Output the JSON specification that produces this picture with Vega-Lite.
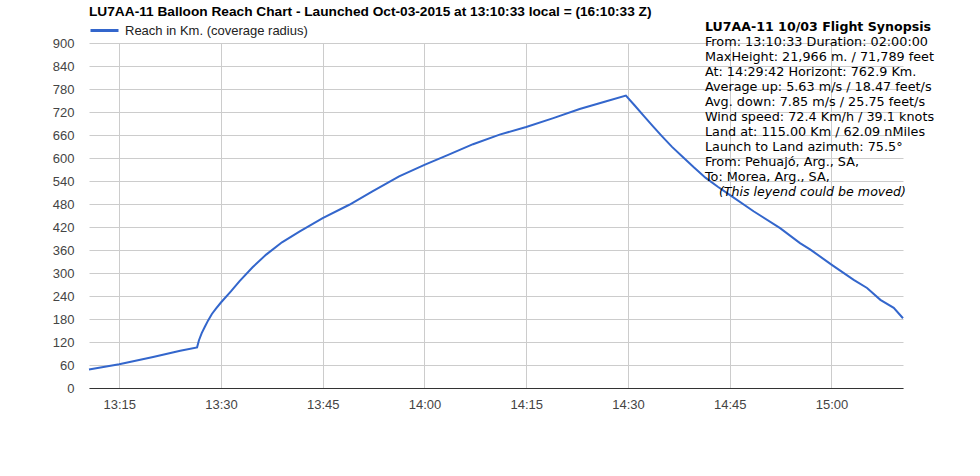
{
  "$schema": "https://vega.github.io/schema/vega-lite/v6.json",
  "width": 814,
  "height": 345,
  "autosize": {"type": "none"},
  "padding": {"left": 89, "top": 43, "right": 77, "bottom": 88},
  "background": "white",
  "title": {
    "text": "LU7AA-11 Balloon Reach Chart - Launched Oct-03-2015 at 13:10:33 local = (16:10:33 Z)",
    "anchor": "start",
    "frame": "group",
    "font": "Liberation Sans",
    "fontSize": 13.7,
    "fontWeight": "bold",
    "color": "#000000",
    "offset": -4
  },
  "config": {
    "view": {"stroke": null},
    "axis": {
      "labelFont": "Liberation Sans",
      "labelFontSize": 13,
      "labelColor": "#444444",
      "ticks": false,
      "gridColor": "#cccccc",
      "gridWidth": 1,
      "title": null
    },
    "legend": {
      "labelFont": "Liberation Sans",
      "labelFontSize": 13,
      "labelColor": "#222222",
      "labelLimit": 400
    }
  },
  "datasets": {
    "reach": [
      {"time": "2015-10-03T13:10:33", "km": 48},
      {"time": "2015-10-03T13:15:00", "km": 62},
      {"time": "2015-10-03T13:20:00", "km": 81},
      {"time": "2015-10-03T13:24:00", "km": 97},
      {"time": "2015-10-03T13:26:29", "km": 106},
      {"time": "2015-10-03T13:26:45", "km": 124},
      {"time": "2015-10-03T13:27:10", "km": 143},
      {"time": "2015-10-03T13:27:40", "km": 161},
      {"time": "2015-10-03T13:28:08", "km": 177},
      {"time": "2015-10-03T13:28:40", "km": 193},
      {"time": "2015-10-03T13:29:16", "km": 207},
      {"time": "2015-10-03T13:30:00", "km": 223},
      {"time": "2015-10-03T13:31:28", "km": 252},
      {"time": "2015-10-03T13:32:45", "km": 279},
      {"time": "2015-10-03T13:34:40", "km": 315},
      {"time": "2015-10-03T13:36:40", "km": 348},
      {"time": "2015-10-03T13:39:00", "km": 380},
      {"time": "2015-10-03T13:41:34", "km": 408},
      {"time": "2015-10-03T13:45:00", "km": 443},
      {"time": "2015-10-03T13:48:55", "km": 478},
      {"time": "2015-10-03T13:52:20", "km": 513},
      {"time": "2015-10-03T13:56:16", "km": 552},
      {"time": "2015-10-03T14:00:00", "km": 582},
      {"time": "2015-10-03T14:03:30", "km": 608},
      {"time": "2015-10-03T14:07:10", "km": 636},
      {"time": "2015-10-03T14:11:05", "km": 661},
      {"time": "2015-10-03T14:15:00", "km": 681},
      {"time": "2015-10-03T14:19:00", "km": 704},
      {"time": "2015-10-03T14:22:53", "km": 728},
      {"time": "2015-10-03T14:26:49", "km": 748},
      {"time": "2015-10-03T14:29:42", "km": 762.9},
      {"time": "2015-10-03T14:31:00", "km": 737},
      {"time": "2015-10-03T14:32:20", "km": 710},
      {"time": "2015-10-03T14:33:40", "km": 683},
      {"time": "2015-10-03T14:35:00", "km": 657},
      {"time": "2015-10-03T14:36:30", "km": 629},
      {"time": "2015-10-03T14:38:03", "km": 603},
      {"time": "2015-10-03T14:39:45", "km": 575},
      {"time": "2015-10-03T14:41:28", "km": 548},
      {"time": "2015-10-03T14:43:15", "km": 525},
      {"time": "2015-10-03T14:45:00", "km": 504},
      {"time": "2015-10-03T14:48:31", "km": 461},
      {"time": "2015-10-03T14:52:26", "km": 417},
      {"time": "2015-10-03T14:55:22", "km": 378},
      {"time": "2015-10-03T14:56:54", "km": 361},
      {"time": "2015-10-03T15:00:00", "km": 322},
      {"time": "2015-10-03T15:03:17", "km": 282},
      {"time": "2015-10-03T15:05:15", "km": 261},
      {"time": "2015-10-03T15:07:13", "km": 230},
      {"time": "2015-10-03T15:09:11", "km": 209},
      {"time": "2015-10-03T15:10:33", "km": 182}
    ],
    "synopsis": [
      {"line": 0, "kind": "head", "text": "LU7AA-11 10/03 Flight Synopsis"},
      {"line": 1, "kind": "body", "text": "From: 13:10:33 Duration: 02:00:00"},
      {"line": 2, "kind": "body", "text": "MaxHeight: 21,966 m. / 71,789 feet"},
      {"line": 3, "kind": "body", "text": "At: 14:29:42  Horizont: 762.9 Km."},
      {"line": 4, "kind": "body", "text": "Average up: 5.63 m/s / 18.47 feet/s"},
      {"line": 5, "kind": "body", "text": "Avg. down: 7.85 m/s / 25.75 feet/s"},
      {"line": 6, "kind": "body", "text": "Wind speed: 72.4 Km/h / 39.1 knots"},
      {"line": 7, "kind": "body", "text": "Land at: 115.00 Km / 62.09 nMiles"},
      {"line": 8, "kind": "body", "text": "Launch to Land azimuth: 75.5°"},
      {"line": 9, "kind": "body", "text": "From: Pehuajó, Arg., SA,"},
      {"line": 10, "kind": "body", "text": "To: Morea, Arg., SA,"},
      {"line": 11, "kind": "note", "text": "(This leyend could be moved)"}
    ]
  },
  "layer": [
    {
      "data": {"name": "reach"},
      "mark": {"type": "line", "strokeWidth": 2, "interpolate": "linear"},
      "encoding": {
        "x": {
          "field": "time",
          "type": "temporal",
          "scale": {"domain": [{"year": 2015, "month": 10, "date": 3, "hours": 13, "minutes": 10, "seconds": 33}, {"year": 2015, "month": 10, "date": 3, "hours": 15, "minutes": 10, "seconds": 33}], "nice": false},
          "axis": {
            "format": "%H:%M",
            "values": [
              {"year": 2015, "month": 10, "date": 3, "hours": 13, "minutes": 15},
              {"year": 2015, "month": 10, "date": 3, "hours": 13, "minutes": 30},
              {"year": 2015, "month": 10, "date": 3, "hours": 13, "minutes": 45},
              {"year": 2015, "month": 10, "date": 3, "hours": 14, "minutes": 0},
              {"year": 2015, "month": 10, "date": 3, "hours": 14, "minutes": 15},
              {"year": 2015, "month": 10, "date": 3, "hours": 14, "minutes": 30},
              {"year": 2015, "month": 10, "date": 3, "hours": 14, "minutes": 45},
              {"year": 2015, "month": 10, "date": 3, "hours": 15, "minutes": 0}
            ],
            "grid": true,
            "domain": true,
            "domainColor": "#333333",
            "domainWidth": 1,
            "labelPadding": 10,
            "labelFlush": false,
            "labelOverlap": false
          }
        },
        "y": {
          "field": "km",
          "type": "quantitative",
          "scale": {"domain": [0, 900], "nice": false},
          "axis": {
            "values": [0, 60, 120, 180, 240, 300, 360, 420, 480, 540, 600, 660, 720, 780, 840, 900],
            "grid": true,
            "domain": false,
            "labelPadding": 15
          }
        },
        "color": {
          "datum": "Reach in Km. (coverage radius)",
          "type": "nominal",
          "scale": {"range": ["#3366cc"]},
          "legend": {
            "title": null,
            "orient": "none",
            "legendX": 0,
            "legendY": -28,
            "symbolType": "stroke",
            "symbolSize": 784,
            "symbolStrokeWidth": 3,
            "labelOffset": 5,
            "labelFontSize": 13,
            "labelLimit": 400
          }
        }
      }
    },
    {
      "data": {"name": "synopsis"},
      "transform": [{"filter": "datum.kind === 'head'"}],
      "mark": {"type": "text", "align": "left", "baseline": "middle", "font": "DejaVu Sans", "fontSize": 12.6, "fontWeight": "bold", "color": "#000000"},
      "encoding": {
        "x": {"datum": {"year": 2015, "month": 10, "date": 3, "hours": 14, "minutes": 41, "seconds": 21}, "type": "temporal"},
        "y": {"field": "line", "type": "quantitative", "scale": {"domain": [1.07, 24.07], "reverse": true, "nice": false, "zero": false}, "axis": null},
        "text": {"field": "text"}
      }
    },
    {
      "data": {"name": "synopsis"},
      "transform": [{"filter": "datum.kind === 'body'"}],
      "mark": {"type": "text", "align": "left", "baseline": "middle", "font": "DejaVu Sans", "fontSize": 12.8, "color": "#000000"},
      "encoding": {
        "x": {"datum": {"year": 2015, "month": 10, "date": 3, "hours": 14, "minutes": 41, "seconds": 21}, "type": "temporal"},
        "y": {"field": "line", "type": "quantitative", "scale": {"domain": [1.07, 24.07], "reverse": true, "nice": false, "zero": false}, "axis": null},
        "text": {"field": "text"}
      }
    },
    {
      "data": {"name": "synopsis"},
      "transform": [{"filter": "datum.kind === 'note'"}],
      "mark": {"type": "text", "align": "left", "baseline": "middle", "font": "DejaVu Sans", "fontSize": 12.6, "fontStyle": "italic", "dx": 14, "color": "#000000"},
      "encoding": {
        "x": {"datum": {"year": 2015, "month": 10, "date": 3, "hours": 14, "minutes": 41, "seconds": 21}, "type": "temporal"},
        "y": {"field": "line", "type": "quantitative", "scale": {"domain": [1.07, 24.07], "reverse": true, "nice": false, "zero": false}, "axis": null},
        "text": {"field": "text"}
      }
    }
  ],
  "resolve": {"scale": {"y": "independent"}}
}
